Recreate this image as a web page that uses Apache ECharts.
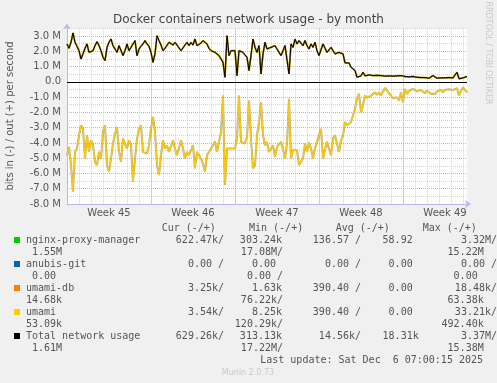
<!DOCTYPE html>
<html>
<head>
<meta charset="utf-8">
<script src="https://cdn.jsdelivr.net/npm/echarts@6/dist/echarts.min.js"></script>
<style>
html,body{margin:0;padding:0;background:#f0f0f0;}
#c{width:497px;height:383px;}
</style>
</head>
<body>
<div id="c"></div>
<script>
// ---- data (Mbit/s), one point every 4 hours from Mon 3 Nov 2025 00:00 ----
const stepDays = 1 / 6;
const outTotal = [
 2.48,2.20,2.59,3.20,2.59,2.33,2.04,1.50,1.83,2.20,
 2.48,1.93,1.83,2.04,2.37,2.63,2.37,2.04,1.61,1.39,
 2.26,2.59,2.80,2.37,2.37,1.93,2.37,2.48,1.72,2.04,
 2.48,2.04,2.15,2.48,2.70,1.72,2.15,2.33,2.48,2.70,
 2.48,2.33,1.93,1.28,1.83,3.02,2.70,2.41,2.04,2.20,
 2.26,2.59,2.48,2.41,2.59,2.41,2.48,2.04,2.15,2.41,
 2.59,2.37,2.59,2.41,2.80,2.37,2.48,2.54,2.70,2.80,
 2.48,2.20,2.04,2.11,1.93,1.98,1.72,1.76,1.28,0.30,
 3.02,1.72,2.04,2.04,2.04,0.41,2.04,1.98,1.93,1.76,
 1.61,0.74,1.72,2.80,2.26,1.93,2.37,0.52,1.83,2.59,
 2.15,2.15,2.26,2.37,2.37,2.15,2.15,1.72,2.04,2.37,
 2.37,0.52,2.48,2.26,2.80,2.48,2.70,2.80,2.37,2.70,
 2.37,2.15,2.48,2.26,2.59,2.04,1.72,1.72,2.48,2.48,
 1.93,1.98,2.26,2.20,1.83,1.83,1.93,1.93,1.83,1.24,
 1.17,1.24,0.96,1.02,0.74,0.30,0.30,0.39,0.63,0.39,
 0.41,0.46,0.37,0.41,0.37,0.43,0.35,0.41,0.46,0.37,
 0.41,0.39,0.35,0.37,0.41,0.39,0.30,0.41,0.46,0.35,
 0.30,0.33,0.30,0.35,0.28,0.30,0.30,0.28,0.26,0.28,
 0.26,0.24,0.30,0.41,0.28,0.24,0.26,0.26,0.24,0.26,
 0.30,0.28,0.24,0.26,0.24,0.63,0.20,0.24,0.26,0.30,0.35
];
const inTotal = [
 -4.80,-4.26,-5.46,-7.20,-4.59,-4.33,-3.50,-2.85,-3.07,-5.02,
 -3.50,-4.59,-3.83,-4.15,-5.24,-5.46,-4.59,-5.02,-3.28,-2.85,
 -5.46,-5.89,-5.02,-4.04,-3.39,-2.96,-4.59,-5.24,-3.72,-4.04,
 -4.37,-3.83,-4.15,-6.54,-5.02,-3.72,-3.07,-2.85,-4.59,-4.59,
 -4.70,-4.15,-3.07,-2.30,-3.28,-5.46,-6.11,-4.80,-3.83,-4.37,
 -4.15,-4.59,-4.70,-3.83,-4.37,-4.80,-4.80,-3.83,-4.37,-5.02,
 -4.59,-4.80,-4.91,-4.15,-5.67,-4.59,-4.70,-5.02,-5.35,-5.89,
 -4.80,-4.59,-4.48,-4.15,-3.89,-4.59,-4.70,-3.28,-0.89,-6.76,
 -4.37,-4.37,-4.37,-4.48,-4.37,-3.72,-0.89,-3.93,-3.98,-4.04,
 -3.61,-1.22,-3.72,-5.67,-5.46,-3.50,-2.63,-1.33,-3.50,-4.15,
 -3.93,-4.59,-4.70,-4.15,-4.91,-4.26,-4.26,-3.93,-4.41,-5.02,
 -4.04,-1.11,-5.02,-4.48,-4.59,-4.48,-5.46,-5.46,-5.02,-4.04,
 -4.59,-3.98,-4.37,-5.02,-4.37,-3.93,-3.93,-3.07,-5.02,-5.02,
 -3.93,-4.04,-4.80,-3.72,-3.50,-4.04,-4.59,-3.83,-3.50,-2.63,
 -2.85,-2.96,-2.63,-2.63,-1.76,-1.11,-0.78,-1.98,-1.54,-0.89,
 -1.05,-0.97,-0.90,-0.86,-0.69,-0.86,-0.69,-0.90,-0.90,-0.40,
 -0.58,-0.62,-0.90,-1.08,-1.01,-1.01,-1.23,-0.69,-1.34,-0.47,
 -0.79,-0.58,-0.69,-0.47,-0.58,-0.62,-0.69,-0.53,-0.58,-0.75,
 -0.58,-0.58,-0.79,-0.86,-0.79,-0.62,-0.58,-0.53,-0.69,-0.53,
 -0.58,-0.49,-0.36,-0.53,-0.42,-0.42,-0.90,-0.58,-0.36,-0.53,-0.69
];
const weekLabels = ['Week 45','Week 46','Week 47','Week 48','Week 49'];

// ---- legend text ----
const titleText = 'Docker containers network usage - by month';
const yName = 'bits in (-) / out (+) per second';
const headers = ['Cur (-/+)','Min (-/+)','Avg (-/+)','Max (-/+)'];
const seriesNames = ['nginx-proxy-manager','anubis-git','umami-db','umami','Total network usage'];
const seriesColors = ['#00cc00','#0066b3','#ff8000','#ffcc00','#000000'];
const line1 = [
 ['622.47k/','303.24k','136.57 /','58.92 ','3.32M/'],
 ['0.00 /','0.00 ','0.00 /','0.00 ','0.00 /'],
 ['3.25k/','1.63k','390.40 /','0.00 ','18.48k/'],
 ['3.54k/','8.25k','390.40 /','0.00 ','33.21k/'],
 ['629.26k/','313.13k','14.56k/','18.31k','3.37M/']
];
const line2 = [
 ['1.55M','17.08M/','15.22M'],
 ['0.00 ','0.00 /','0.00 '],
 ['14.68k','76.22k/','63.38k'],
 ['53.09k','120.29k/','492.40k'],
 ['1.61M','17.22M/','15.38M']
];
const lastUpdate = 'Last update: Sat Dec  6 07:00:15 2025';
const credit = 'Munin 2.0.73';
const vertical = 'RRDTOOL / TOBI OETIKER';

// ---- build ----
const mono = '"DejaVu Sans Mono", monospace';
const sans = '"DejaVu Sans", sans-serif';
const txtCol = '#555';
const toPairs = arr => arr.map((v, i) => [i * stepDays, v]);
const xMax = 400 / 12;

const graphics = [];
function T(text, x, y, opt) {
  opt = opt || {};
  graphics.push({
    type: 'text', x: x, y: y, rotation: opt.rot || 0, silent: true,
    style: { text: text, fill: opt.fill || txtCol, font: opt.font || ('10px ' + mono),
             textAlign: opt.align || 'left', textVerticalAlign: 'middle', verticalAlign: 'middle' }
  });
}
T(titleText, 248.5, 19.5, { font: '12px ' + sans, align: 'center', fill: '#444' });
T(yName, 10, 116, { font: '10px ' + sans, align: 'center', rot: Math.PI / 2 });
T(vertical, 488, 53, { font: '8px ' + sans, align: 'center', rot: -Math.PI / 2, fill: '#c8c8c8' });
const headerX = [161.7, 249, 335.7, 422.7];
headers.forEach((h, i) => T(h, headerX[i], 228));
const r1 = [224, 282, 361, 418.7, 497];
const r2 = [62, 283, 483.7];
seriesNames.forEach((n, i) => {
  const y = 240 + i * 24;
  graphics.push({ type: 'rect', silent: true, shape: { x: 14, y: y - 3, width: 6, height: 6 },
                  style: { fill: seriesColors[i] } });
  T(n, 26, y);
  line1[i].forEach((s, j) => T(s, r1[j], y, { align: 'right' }));
  line2[i].forEach((s, j) => T(s, r2[j], y + 12, { align: 'right' }));
});
T(lastUpdate, 483, 360, { align: 'right' });
T(credit, 248, 372.5, { font: '8px ' + sans, align: 'center', fill: '#c8c8c8' });

const axisCol = '#b8b8f0';
const grayGrid = '#d2d2d2';
const redGrid = '#eba3a3';

const chart = echarts.init(document.getElementById('c'), null, { renderer: 'canvas' });
chart.setOption({
  backgroundColor: '#f0f0f0',
  animation: false,
  grid: { left: 67, right: 30, top: 28.4, bottom: 179, show: true, backgroundColor: '#ffffff', borderWidth: 0 },
  xAxis: [
    { type: 'value', min: 0, max: xMax, interval: 1, position: 'bottom',
      axisLine: { onZero: false, lineStyle: { color: axisCol }, symbol: ['none', 'arrow'], symbolSize: [6, 6], symbolOffset: [0, 4] },
      axisTick: { show: false }, axisLabel: { show: false },
      splitLine: { show: true, showMinLine: false, showMaxLine: false, lineStyle: { color: grayGrid, type: [1, 1] } } },
    { type: 'value', min: 0, max: xMax, interval: 7, position: 'bottom',
      axisLine: { show: false, onZero: false }, axisTick: { show: false }, axisLabel: { show: false },
      splitLine: { show: true, showMinLine: false, showMaxLine: false, lineStyle: { color: redGrid, type: [1, 1] } } },
    { type: 'value', min: 0, max: xMax, interval: 3.5, position: 'bottom',
      axisLine: { show: false, onZero: false }, axisTick: { show: false },
      axisLabel: { margin: 4, color: txtCol, fontFamily: sans, fontSize: 10, showMinLabel: false, showMaxLabel: false,
        formatter: v => { const w = (v - 3.5) / 7; return (Math.abs(w - Math.round(w)) < 1e-6 && w >= 0) ? weekLabels[Math.round(w)] : ''; } },
      splitLine: { show: false } }
  ],
  yAxis: [
    { type: 'value', min: -8, max: 3.5, interval: 0.5,
      axisLine: { show: true, onZero: false, lineStyle: { color: axisCol }, symbol: ['none', 'arrow'], symbolSize: [6, 6], symbolOffset: [0, 5] },
      axisTick: { show: false },
      axisLabel: { margin: 6, color: txtCol, fontFamily: sans, fontSize: 10,
        formatter: v => (Math.abs(v - Math.round(v)) > 1e-6) ? '' : (v === 0 ? '0.0' : v.toFixed(1) + ' M') },
      splitLine: { show: true, showMinLine: false, lineStyle: { color: grayGrid, type: [1, 1] } } },
    { type: 'value', min: -8, max: 3.5, interval: 1,
      axisLine: { show: false }, axisTick: { show: false }, axisLabel: { show: false },
      splitLine: { show: true, showMinLine: false, showMaxLine: false, lineStyle: { color: redGrid, type: [1, 1] } } }
  ],
  series: [
    { type: 'line', name: 'nginx-proxy-manager out', data: toPairs(outTotal), showSymbol: false, symbol: 'none',
      lineStyle: { color: '#00cc00', width: 1.4 }, z: 3 },
    { type: 'line', name: 'umami out', data: toPairs(outTotal), showSymbol: false, symbol: 'none',
      lineStyle: { color: '#d08a10', width: 1.8 }, z: 4 },
    { type: 'line', name: 'Total out', data: toPairs(outTotal), showSymbol: false, symbol: 'none',
      lineStyle: { color: '#000000', width: 1 }, z: 6,
      markLine: { silent: true, symbol: 'none', label: { show: false },
        lineStyle: { color: '#000000', width: 1, type: 'solid' }, data: [{ yAxis: 0 }] } },
    { type: 'line', name: 'nginx-proxy-manager in', data: toPairs(inTotal), showSymbol: false, symbol: 'none',
      lineStyle: { color: '#8a8c6a', width: 2.1, opacity: 0.65 }, z: 3 },
    { type: 'line', name: 'umami in', data: toPairs(inTotal), showSymbol: false, symbol: 'none',
      lineStyle: { color: '#ffc800', width: 1.3 }, z: 5 }
  ],
  graphic: graphics
});
</script>
</body>
</html>
